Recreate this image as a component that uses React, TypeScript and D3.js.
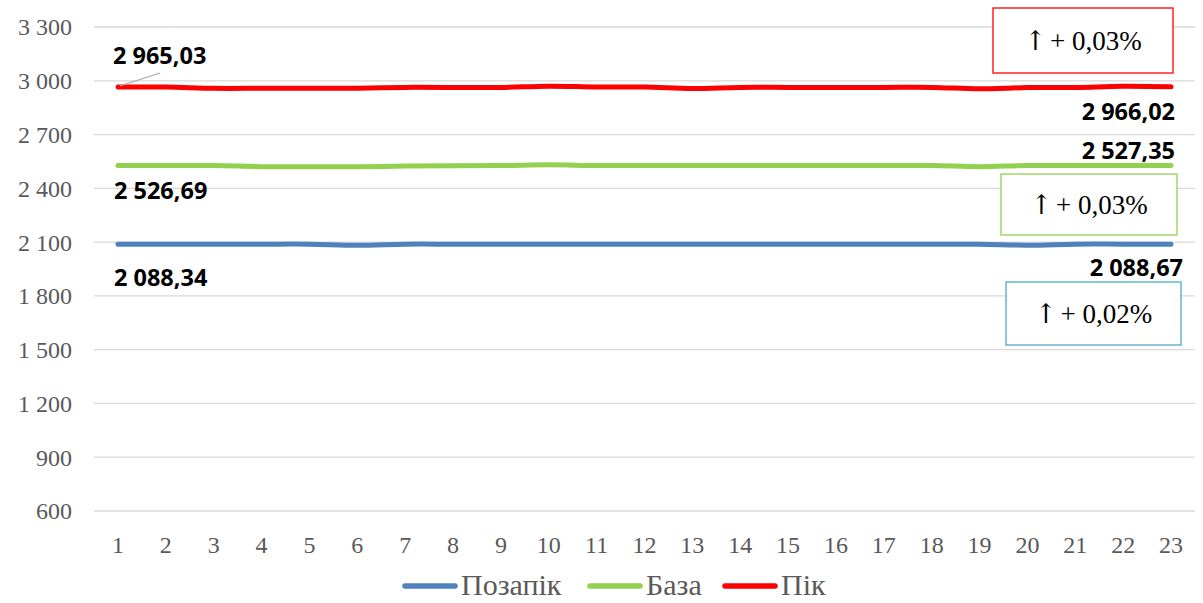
import React from "react";
import * as d3 from "d3";

const days = d3.range(1, 24);
const pikValues = [2965.03, 2965, 2958, 2958, 2958, 2958, 2963, 2963, 2963, 2970, 2965, 2965, 2957, 2963, 2963, 2963, 2963, 2963, 2955, 2962, 2963, 2969, 2966.02];
const bazaValues = [2526.69, 2527, 2527, 2521, 2520, 2520, 2524, 2526, 2527, 2532, 2527, 2527, 2527, 2527, 2527, 2527, 2527, 2527, 2521, 2527, 2527, 2527, 2527.35];
const pozapikValues = [2088.34, 2088.4, 2088.4, 2088.4, 2088.4, 2082, 2088.4, 2088.4, 2088.4, 2088.4, 2088.4, 2088.4, 2088.4, 2088.4, 2088.4, 2088.4, 2088.4, 2088.4, 2088.4, 2083, 2088.5, 2088.6, 2088.67];
const yTicks = [600, 900, 1200, 1500, 1800, 2100, 2400, 2700, 3000, 3300];
const seriesNames = ["Позапік", "База", "Пік"];
const changeLabels = ["+ 0,02%", "+ 0,03%", "+ 0,03%"];

const W = 1203, H = 603;
const left = 94, right = 1195, top = 27, bottom = 511;

const locale = d3.formatLocale({ decimal: ",", thousands: "\u00a0", grouping: [3], currency: ["", ""] });
const fmtVal = locale.format(",.2f");
const fmtTick = locale.format(",d");

export default function App() {
  const x = d3.scaleBand<number>().domain(days).range([left, right]);
  const xc = (d: number) => (x(d) as number) + x.bandwidth() / 2;
  const y = d3.scaleLinear().domain([600, 3300]).range([bottom, top]);
  const line = d3.line<number>().x((_, i) => xc(days[i])).y((v) => y(v)).curve(d3.curveCatmullRom.alpha(0.5));

  const series = [
    { name: seriesNames[0], values: pozapikValues, color: "#4f81bd", boxColor: "#4bacc6", change: changeLabels[0] },
    { name: seriesNames[1], values: bazaValues, color: "#92d050", boxColor: "#92d050", change: changeLabels[1] },
    { name: seriesNames[2], values: pikValues, color: "#ff0000", boxColor: "#ff0000", change: changeLabels[2] },
  ];

  const first = days[0], last = days[days.length - 1];
  const labelStyle: React.CSSProperties = { fontFamily: "'Open Sans', sans-serif", fontWeight: 700, fontSize: 23.5, fill: "#000" };
  const axisStyle: React.CSSProperties = { fontFamily: "'Liberation Serif', 'Times New Roman', serif", fontSize: 24, fill: "#595959" };

  // label offsets [firstDx, firstDy, lastDx, lastDy]
  const labelOffsets = [
    [-4, 42, 12, 32],
    [-4, 33, 4, -7],
    [-5, -23, 4, 33],
  ];
  // change box [x, y, w, h]
  const boxes = [
    [1006, 282, 175, 63],
    [1001, 174, 176, 61],
    [993, 8, 180, 65],
  ];
  const legendX = [402, 587, 722];

  return (
    <svg width={W} height={H} style={{ position: "absolute", left: 0, top: 0, background: "#fff" }}>
      {yTicks.map((t) => (
        <g key={t}>
          <line x1={left} x2={right} y1={y(t)} y2={y(t)} stroke="#d9d9d9" strokeWidth={1.3} />
          <text x={72} y={y(t)} dy="0.35em" textAnchor="end" style={axisStyle}>{fmtTick(t)}</text>
        </g>
      ))}
      {days.map((d) => (
        <text key={d} x={xc(d)} y={553} textAnchor="middle" style={axisStyle}>{d}</text>
      ))}
      {series.map((s) => (
        <path key={s.name} d={line(s.values) as string} fill="none" stroke={s.color} strokeWidth={5} strokeLinecap="round" strokeLinejoin="round" />
      ))}
      <line x1={xc(first) + 2} y1={y(pikValues[0]) - 1} x2={xc(first) + 42} y2={y(pikValues[0]) - 14} stroke="#a6a6a6" strokeWidth={1.2} />
      {series.map((s, i) => {
        const o = labelOffsets[i];
        const v0 = s.values[0], v1 = s.values[s.values.length - 1];
        return (
          <g key={"lab" + s.name}>
            <text x={xc(first) + o[0]} y={y(v0) + o[1]} style={labelStyle}>{fmtVal(v0)}</text>
            <text x={xc(last) + o[2]} y={y(v1) + o[3]} textAnchor="end" style={labelStyle}>{fmtVal(v1)}</text>
          </g>
        );
      })}
      {series.map((s, i) => {
        const b = boxes[i];
        const cy = b[1] + b[3] / 2;
        return (
          <g key={"box" + s.name}>
            <rect x={b[0]} y={b[1]} width={b[2]} height={b[3]} fill="#fff" stroke={s.boxColor} strokeWidth={1.3} />
            <text x={b[0] + b[2] / 2} y={cy} dy="0.35em" textAnchor="middle" style={{ fontFamily: "'Liberation Serif', serif", fontSize: 27, fill: "#000" }}>
              <tspan style={{ fontFamily: "'DejaVu Serif', serif", fontSize: 27 }}>↑</tspan>
              <tspan dx={3}>{s.change}</tspan>
            </text>
          </g>
        );
      })}
      {series.map((s, i) => (
        <g key={"leg" + s.name}>
          <line x1={legendX[i] + 3} x2={legendX[i] + 53} y1={586} y2={586} stroke={s.color} strokeWidth={5.5} strokeLinecap="round" />
          <text x={legendX[i] + 59} y={595} style={{ fontFamily: "'Liberation Serif', serif", fontSize: 30, fill: "#595959" }}>{s.name}</text>
        </g>
      ))}
    </svg>
  );
}
